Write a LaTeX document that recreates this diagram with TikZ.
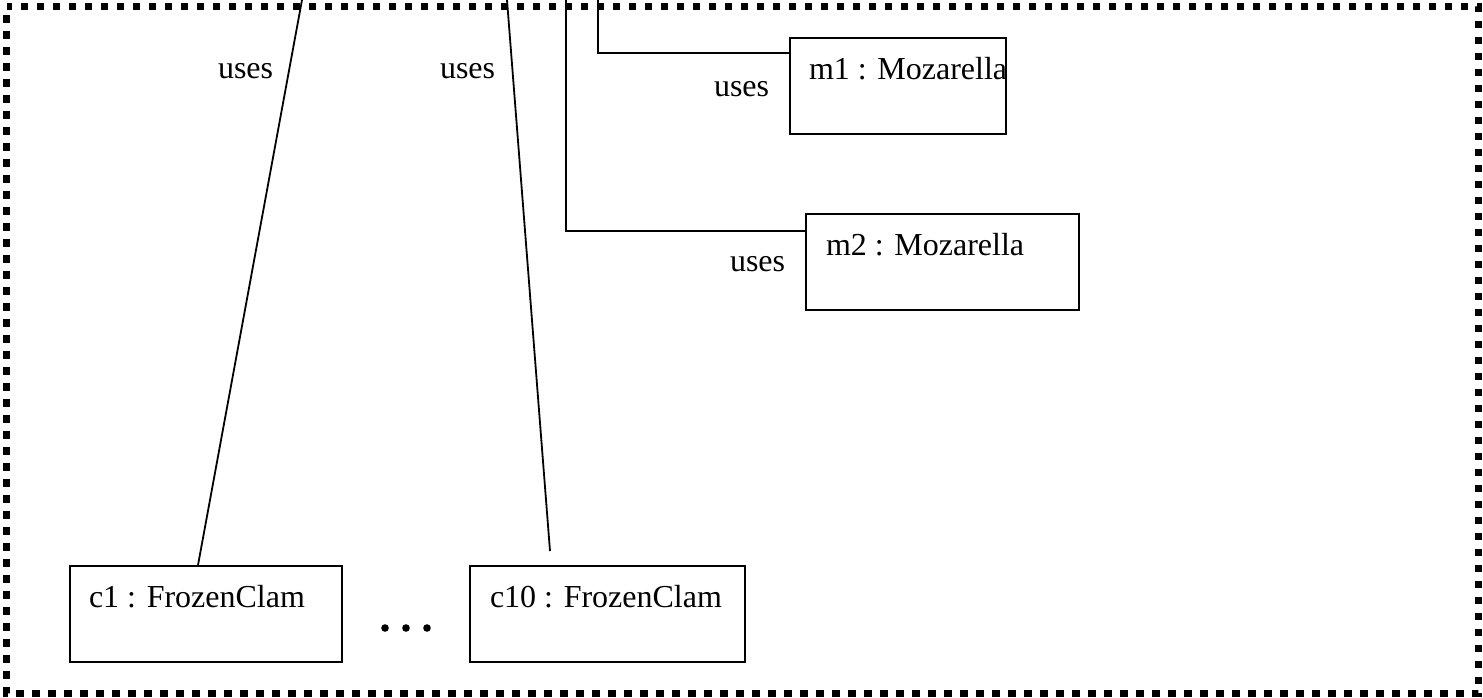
\documentclass[tikz,border=0pt]{standalone}
\usepackage{fontspec}
\setmainfont{Liberation Serif}
\usetikzlibrary{calc}
\begin{document}
\begin{tikzpicture}[x=1pt,y=-1pt,
  every node/.style={font=\fontsize{32}{38}\selectfont, inner sep=0pt, outer sep=0pt},
  objbox/.style={draw, line width=2.4pt, anchor=north west, minimum height=96pt},
  objname/.style={anchor=base west},
  link/.style={line width=1.8pt},
  frame/.style={line width=7.5pt, dash pattern=on 7.5pt off 8.5pt, dash phase=7.5pt}
]
\useasboundingbox (0,0) rectangle (1483,697);

% dotted frame of the collaboration
\draw[frame] (6.5,6.5) rectangle (1478.5,693.5);

% objects
\node[objbox, minimum width=216pt] (m1) at (790,38) {};
\node[objname] (m1t) at ($(m1.north west)+(19,41)$) {m1 : Mozarella};
\node[objbox, minimum width=273pt] (m2) at (806,214) {};
\node[objname] (m2t) at ($(m2.north west)+(20,41)$) {m2 : Mozarella};
\node[objbox, minimum width=272pt] (c1) at (70,566) {};
\node[objname] (c1t) at ($(c1.north west)+(19,41)$) {c1 : FrozenClam};
\node[objbox, minimum width=275pt] (c10) at (470,566) {};
\node[objname] (c10t) at ($(c10.north west)+(20,41)$) {c10 : FrozenClam};

% ellipsis between the clams
\foreach \dx in {385,406,427} \fill (\dx,628) circle (3.8pt);

% links entering from outside the frame
\coordinate (s1) at (302,0);
\coordinate (s2) at (507,0);
\coordinate (s3) at (566,0);
\coordinate (s4) at (598,0);
\coordinate (e2) at (550,551);

\draw[link] (s1) -- ($(c1.north west)!0.47!(c1.north east)$);
\draw[link] (s2) -- (e2);
\draw[link] (s3) |- ($(m2.north west)+(0,17)$);
\draw[link] (s4) |- ($(m1.north west)+(0,15)$);

% link labels
\node[anchor=base west] (u1) at (218,78) {uses};
\node[anchor=base west] (u2) at (440,78) {uses};
\node[anchor=base west] (u3) at (714,96) {uses};
\node[anchor=base west] (u4) at (730,271) {uses};
\end{tikzpicture}
\end{document}
